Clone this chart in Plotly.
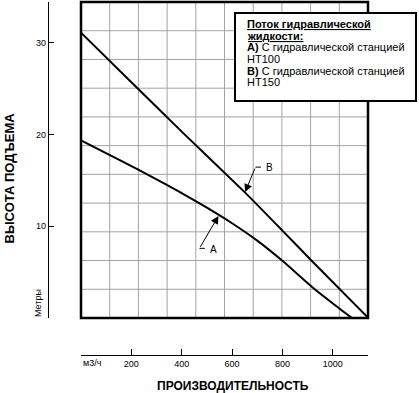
import plotly.graph_objects as go

# ---- data ----
flow_a = [0, 150, 300, 400, 500, 600, 700, 800, 920, 1074]
head_a = [19.35, 17.25, 15.1, 13.6, 12.0, 10.3, 8.4, 6.2, 3.3, 0]
flow_b = [0, 200, 400, 650, 800, 920, 1140]
head_b = [31.1, 25.7, 20.3, 13.7, 9.5, 6.1, 0]

x_tickvals = [0, 200, 400, 600, 800, 1000]
x_ticktext = ["", "200", "400", "600", "800", "1000"]
y_tickvals = [0, 10, 20, 30]
y_ticktext = ["", "10", "20", "30"]

legend_lines = [
    "<b><u>Поток гидравлической</u></b>",
    "<b><u>жидкости:</u></b>",
    "<b>A)</b> С гидравлической станцией",
    "HT100",
    "<b>B)</b> С гидравлической станцией",
    "HT150",
]
label_a = {"text": "A", "x": 546, "y": 11.1}
label_b = {"text": "B", "x": 652, "y": 13.7}

GRID_COLS, GRID_ROWS = 10, 11

FONT = "Liberation Sans, Arial, sans-serif"
W, H = 419, 393
ML, MR, MT, MB = 48, 51, 2, 38
PW, PH = W - ML - MR, H - MT - MB


def px_x(p):
    return (p - ML) / PW


def px_y(p):
    return (H - MB - p) / PH


fig = go.Figure()
fig.add_trace(go.Scatter(x=flow_a, y=head_a, mode="lines",
                         line=dict(color="black", width=2, shape="spline", smoothing=0.7),
                         showlegend=False))
fig.add_trace(go.Scatter(x=flow_b, y=head_b, mode="lines",
                         line=dict(color="black", width=2, shape="spline", smoothing=0.5),
                         showlegend=False))

annotations = []
shapes = []

# background grid of the chart box
for i in range(1, GRID_COLS):
    shapes.append(dict(type="line", xref="x domain", yref="y domain",
                       x0=i / GRID_COLS, x1=i / GRID_COLS, y0=0, y1=1,
                       line=dict(color="#a3a3a3", width=1), layer="below"))
for j in range(1, GRID_ROWS):
    shapes.append(dict(type="line", xref="x domain", yref="y domain",
                       x0=0, x1=1, y0=j / GRID_ROWS, y1=j / GRID_ROWS,
                       line=dict(color="#a3a3a3", width=1), layer="below"))
shapes.append(dict(type="rect", xref="x domain", yref="y domain", x0=0, x1=1, y0=0, y1=1,
                   line=dict(color="black", width=2.5), layer="above"))

# legend box
shapes.append(dict(type="rect", xref="paper", yref="paper",
                   x0=px_x(235), x1=px_x(416), y0=px_y(101), y1=px_y(13),
                   line=dict(color="black", width=2), fillcolor="white", layer="above"))
for txt, yc in zip(legend_lines, [24, 35.7, 47.3, 59, 70.7, 82.3]):
    annotations.append(dict(text=txt, xref="paper", yref="paper", x=px_x(245), y=px_y(yc),
                            xanchor="left", yanchor="middle", showarrow=False,
                            font=dict(family=FONT, size=11, color="black")))

# curve labels with leaders
for lab, (ax, ay, tx, ty) in [(label_b, (10.3, -25, 24, 24.3)), (label_a, (-19, 32.4, -5, -33.4))]:
    annotations.append(dict(text="", x=lab["x"], y=lab["y"], xref="x", yref="y",
                            ax=ax, ay=ay, showarrow=True, arrowhead=2, arrowsize=1.6,
                            arrowwidth=1, arrowcolor="black"))
    shapes.append(dict(type="line", xref="x", yref="y", xsizemode="pixel", ysizemode="pixel",
                       xanchor=lab["x"], yanchor=lab["y"], x0=ax, x1=ax + 5.5, y0=-ay, y1=-ay,
                       line=dict(color="black", width=1)))
    annotations.append(dict(text=lab["text"], x=lab["x"], y=lab["y"], xref="x", yref="y",
                            xshift=tx, yshift=ty, showarrow=False,
                            font=dict(family=FONT, size=10, color="black")))

# axis titles and units
annotations.append(dict(text="<b>ВЫСОТА ПОДЪЕМА</b>", xref="paper", yref="paper",
                        x=px_x(8.5), y=px_y(178), textangle=-90, showarrow=False,
                        xanchor="center", yanchor="middle",
                        font=dict(family=FONT, size=13, color="black")))
annotations.append(dict(text="Метры", xref="paper", yref="paper",
                        x=px_x(37.5), y=px_y(303.5), textangle=-90, showarrow=False,
                        xanchor="center", yanchor="middle",
                        font=dict(family=FONT, size=9, color="black")))
annotations.append(dict(text="<b>ПРОИЗВОДИТЕЛЬНОСТЬ</b>", xref="paper", yref="paper",
                        x=px_x(233.3), y=px_y(386), showarrow=False,
                        xanchor="center", yanchor="middle",
                        font=dict(family=FONT, size=12, color="black")))
annotations.append(dict(text="м3/ч", xref="x", yref="paper", x=0, y=px_y(362.8),
                        xanchor="left", yanchor="middle", showarrow=False,
                        font=dict(family=FONT, size=9, color="black")))

fig.update_layout(
    width=W, height=H,
    margin=dict(l=ML, r=MR, t=MT, b=MB, pad=0, autoexpand=False),
    paper_bgcolor="white", plot_bgcolor="white",
    showlegend=False,
    xaxis=dict(domain=[px_x(81), 1], anchor="free", position=0, range=[0, 1140],
               automargin=False,
               tickmode="array", tickvals=x_tickvals, ticktext=x_ticktext,
               ticks="inside", ticklen=6, tickwidth=1.2, tickcolor="black",
               showline=True, linecolor="black", linewidth=1.2, showgrid=False,
               zeroline=False, fixedrange=True,
               tickfont=dict(family=FONT, size=9, color="black")),
    yaxis=dict(domain=[px_y(318), 1], anchor="free", position=0, side="left",
               range=[-0.04, 34.45], automargin=False,
               tickmode="array", tickvals=y_tickvals, ticktext=y_ticktext,
               ticks="inside", ticklen=5, tickwidth=1.2, tickcolor="black",
               showline=True, linecolor="black", linewidth=1.2, showgrid=False,
               zeroline=False, fixedrange=True,
               tickfont=dict(family=FONT, size=9, color="black")),
    annotations=annotations,
    shapes=shapes,
)

fig.write_html(
    "out.html",
    config={"displayModeBar": False},
    post_script="document.body.style.margin='0';document.body.style.overflow='hidden';",
)
